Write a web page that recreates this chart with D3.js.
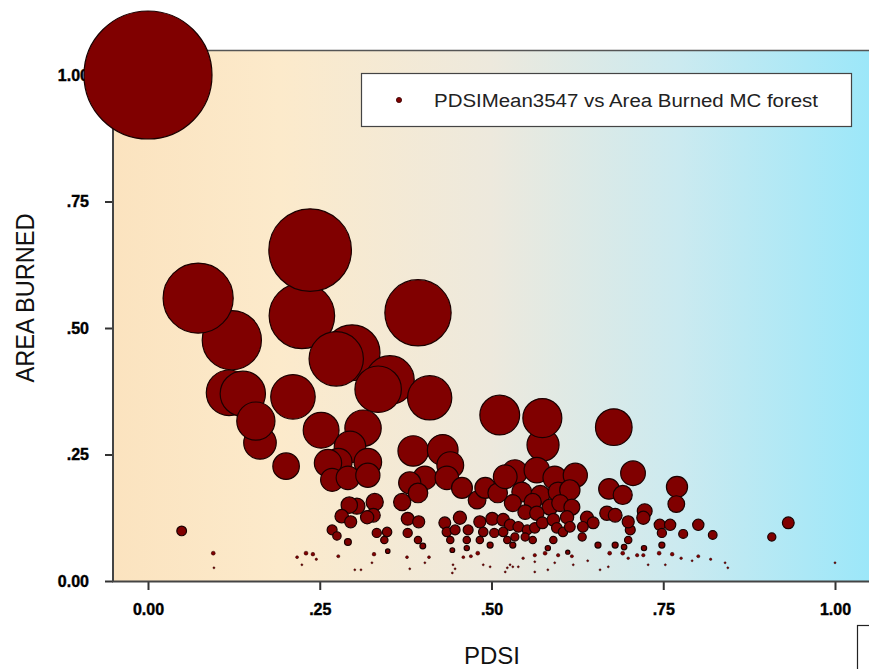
<!DOCTYPE html>
<html><head><meta charset="utf-8">
<script src="https://cdn.jsdelivr.net/npm/d3@7"></script>
<style>
html,body{margin:0;padding:0;background:#fff;}
svg{display:block;}
</style></head>
<body>
<svg id="chart" width="869" height="669"></svg>
<script>
// ---- DATA ----
const xTicks = [0, 0.25, 0.5, 0.75, 1];
const xTickLabels = ["0.00", ".25", ".50", ".75", "1.00"];
const yTicks = [0, 0.25, 0.5, 0.75, 1];
const yTickLabels = ["0.00", ".25", ".50", ".75", "1.00"];
const xTitle = "PDSI";
const yTitle = "AREA BURNED";
const seriesName = "PDSIMean3547 vs Area Burned MC forest";

const pdsi = [
 0.000,0.122,0.073,0.224,0.236,0.393,0.297,0.274,0.352,0.335,
 0.410,0.118,0.138,0.211,0.163,0.157,0.252,0.313,0.201,0.294,
 0.277,0.262,0.320,0.268,0.291,0.320,0.386,0.429,0.440,0.512,
 0.575,0.574,0.678,0.534,0.566,0.592,0.622,0.706,0.671,0.691,
 0.770,0.769,0.403,0.381,0.393,0.370,0.435,0.457,0.479,0.491,
 0.509,0.520,0.330,0.328,0.304,0.293,0.282,0.295,0.319,0.268,
 0.275,0.291,0.333,0.348,0.344,0.349,0.378,0.394,0.378,0.393,
 0.400,0.432,0.454,0.435,0.447,0.466,0.440,0.464,0.443,0.464,
 0.483,0.501,0.488,0.504,0.483,0.498,0.480,0.517,
 0.544,0.571,0.597,0.614,0.531,0.560,0.585,0.600,0.617,0.549,
 0.566,0.610,0.668,0.680,0.639,0.648,0.633,0.527,0.539,0.552,
 0.563,0.574,0.590,0.595,0.604,0.614,0.517,0.534,0.549,0.523,
 0.531,0.560,0.590,0.632,0.582,0.578,0.563,0.597,0.611,0.617,
 0.655,0.680,0.672,0.691,0.699,0.702,0.699,0.699,0.712,0.693,
 0.723,0.721,0.745,0.760,0.748,0.779,0.801,0.822,0.722,0.721,
 0.748,0.744,0.763,0.776,0.792,0.801,0.819,0.840,0.844,0.908,
 0.932,1.000,0.753,0.728,
 0.049,0.095,0.096,0.217,0.230,0.240,0.245,0.224,0.277,0.301,
 0.310,0.329,0.326,0.377,0.381,0.403,0.409,0.444,0.447,0.443,
 0.459,0.470,0.488,0.498,
 0.546,0.563,0.592,0.640,0.619,0.527,0.531,0.539,0.523,0.563,
 0.582,0.658,0.670,0.520
];
const areaBurned = [
 1.000,0.476,0.559,0.524,0.654,0.530,0.451,0.439,0.397,0.379,
 0.362,0.372,0.370,0.364,0.273,0.316,0.298,0.302,0.227,0.265,
 0.235,0.233,0.235,0.200,0.204,0.209,0.257,0.259,0.229,0.328,
 0.269,0.322,0.304,0.215,0.219,0.204,0.209,0.213,0.182,0.170,
 0.186,0.152,0.204,0.194,0.174,0.156,0.204,0.184,0.160,0.184,
 0.174,0.206,0.156,0.130,0.148,0.150,0.128,0.117,0.126,0.101,
 0.089,0.077,0.095,0.097,0.081,0.059,0.123,0.117,0.095,0.081,
 0.069,0.115,0.125,0.097,0.101,0.101,0.081,0.081,0.061,0.065,
 0.117,0.123,0.097,0.095,0.081,0.071,0.055,0.121,
 0.176,0.170,0.176,0.180,0.154,0.156,0.146,0.154,0.146,0.136,
 0.134,0.126,0.134,0.130,0.125,0.115,0.107,0.111,0.107,0.101,
 0.105,0.115,0.121,0.105,0.097,0.107,0.097,0.087,0.087,0.081,
 0.071,0.081,0.081,0.087,0.065,0.055,0.051,0.051,0.057,0.049,
 0.071,0.071,0.055,0.055,0.081,0.101,0.117,0.045,0.051,0.067,
 0.138,0.125,0.111,0.111,0.095,0.093,0.111,0.091,0.065,0.051,
 0.071,0.055,0.053,0.045,0.040,0.049,0.043,0.036,0.026,0.087,
 0.115,0.036,0.032,0.032,
 0.099,0.055,0.026,0.047,0.055,0.053,0.043,0.032,0.049,0.022,
 0.022,0.053,0.036,0.047,0.024,0.036,0.047,0.032,0.024,0.016,
 0.047,0.049,0.032,0.028,
 0.045,0.038,0.036,0.040,0.032,0.032,0.028,0.028,0.026,0.018,
 0.022,0.022,0.028,0.018
];

// ---- DRAW ----
const svg = d3.select("#chart");
const W = 869, H = 669;
const plot = {left: 113, top: 50, right: 869, bottom: 581};

const x = d3.scaleLinear().domain([0, 1]).range([148, 835]);
const y = d3.scaleLinear().domain([0, 1]).range([581, 75]);
const r = d3.scaleLinear().domain([0.025, 1]).range([0, 64]).clamp(true);

const defs = svg.append("defs");
const grad = defs.append("linearGradient").attr("id", "bg")
  .attr("x1", "0%").attr("x2", "100%").attr("y1", "0%").attr("y2", "0%");
[["0%", "#FBE3BF"], ["22%", "#FCEACB"], ["50%", "#EDE9DD"], ["75%", "#CBEAF0"], ["100%", "#9CE7F9"]]
  .forEach(([o, c]) => grad.append("stop").attr("offset", o).attr("stop-color", c));

svg.append("rect").attr("width", W).attr("height", H).attr("fill", "#fff");
svg.append("rect")
  .attr("x", plot.left).attr("y", plot.top)
  .attr("width", plot.right - plot.left).attr("height", plot.bottom - plot.top)
  .attr("fill", "url(#bg)");

svg.append("line").attr("x1", plot.left).attr("x2", plot.right).attr("y1", plot.top + 0.5).attr("y2", plot.top + 0.5)
  .attr("stroke", "#555").attr("stroke-width", 1.5);

const font = "'Liberation Sans', Arial, Helvetica, sans-serif";

const xAxis = d3.axisBottom(x).tickValues(xTicks)
  .tickFormat((d, i) => xTickLabels[i]).tickSize(9).tickPadding(14);
const gx = svg.append("g").attr("transform", `translate(0,${plot.bottom})`).call(xAxis);
gx.select(".domain").remove();
gx.selectAll(".tick line").attr("stroke", "#333").attr("stroke-width", 2);
gx.selectAll(".tick text").attr("font-family", font).attr("font-size", 16)
  .attr("font-weight", "bold").attr("fill", "#000").attr("stroke", "#000").attr("stroke-width", 0.4);

const yAxis = d3.axisLeft(y).tickValues(yTicks)
  .tickFormat((d, i) => yTickLabels[i]).tickSize(8).tickPadding(16);
const gy = svg.append("g").attr("transform", `translate(${plot.left},0)`).call(yAxis);
gy.select(".domain").remove();
gy.selectAll(".tick line").attr("stroke", "#333").attr("stroke-width", 2);
gy.selectAll(".tick text").attr("font-family", font).attr("font-size", 16)
  .attr("font-weight", "bold").attr("fill", "#000").attr("stroke", "#000").attr("stroke-width", 0.4);

svg.append("line").attr("x1", plot.left).attr("x2", plot.left).attr("y1", plot.top).attr("y2", plot.bottom + 1)
  .attr("stroke", "#444").attr("stroke-width", 2);
svg.append("line").attr("x1", plot.left - 1).attr("x2", plot.right).attr("y1", plot.bottom + 0.5).attr("y2", plot.bottom + 0.5)
  .attr("stroke", "#444").attr("stroke-width", 2);

svg.append("text").attr("x", 492).attr("y", 664).attr("text-anchor", "middle")
  .attr("font-family", font).attr("font-size", 24).attr("fill", "#111")
  .attr("textLength", 56).attr("lengthAdjust", "spacingAndGlyphs").text(xTitle);
svg.append("text").attr("transform", "translate(34,298) rotate(-90)").attr("text-anchor", "middle")
  .attr("font-family", font).attr("font-size", 26).attr("fill", "#111")
  .attr("textLength", 169).attr("lengthAdjust", "spacingAndGlyphs").text(yTitle);

svg.append("rect").attr("x", 361.5).attr("y", 73.5).attr("width", 490).attr("height", 53)
  .attr("fill", "#fff").attr("stroke", "#444").attr("stroke-width", 1.2);
svg.append("circle").attr("cx", 399).attr("cy", 100).attr("r", 2.6)
  .attr("fill", "#800000").attr("stroke", "#300").attr("stroke-width", 0.8);
svg.append("text").attr("x", 434).attr("y", 106.5)
  .attr("font-family", font).attr("font-size", 18).attr("fill", "#222")
  .attr("textLength", 384).attr("lengthAdjust", "spacingAndGlyphs").text(seriesName);

svg.append("rect").attr("x", 857.5).attr("y", 625.5).attr("width", 30).attr("height", 60)
  .attr("fill", "none").attr("stroke", "#222").attr("stroke-width", 1.2);

const pts = pdsi.map((v, i) => ({x: v, y: areaBurned[i]}));
svg.append("g").selectAll("circle").data(pts).join("circle")
  .attr("cx", d => x(d.x)).attr("cy", d => y(d.y))
  .attr("r", d => Math.max(1, r(d.y)))
  .attr("fill", "#800000")
  .attr("stroke", d => r(d.y) < 2 ? "#2a0000" : "#1a0000")
  .attr("stroke-width", d => r(d.y) < 2 ? 0.5 : 1.2);
</script>
</body></html>
